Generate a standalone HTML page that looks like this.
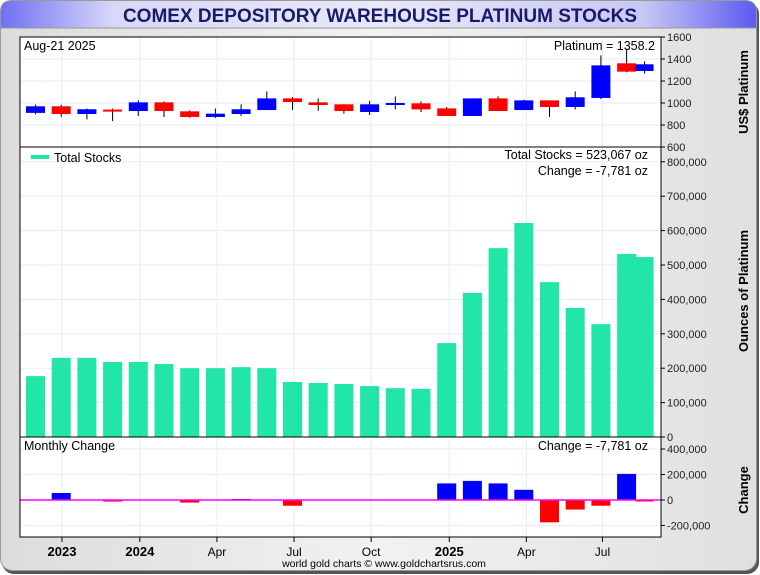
<!DOCTYPE html>
<html><head><meta charset="utf-8"><style>
body{margin:0;width:760px;height:575px;overflow:hidden;background:#fff;font-family:"Liberation Sans",sans-serif}
svg{display:block}
</style></head><body>
<svg id="chart" width="760" height="575" xmlns="http://www.w3.org/2000/svg">
<defs>
<linearGradient id="hdr" x1="0" x2="1" y1="0" y2="0">
<stop offset="0" stop-color="#6f6ff5"/><stop offset="0.15" stop-color="#d8d8f8"/><stop offset="0.5" stop-color="#e8e8fa"/><stop offset="0.85" stop-color="#c8c8f6"/><stop offset="1" stop-color="#5a5af0"/></linearGradient>
<linearGradient id="bg" x1="0" x2="1" y1="0" y2="0"><stop offset="0" stop-color="#dcdcdc"/><stop offset="0.5" stop-color="#f2f2f2"/><stop offset="1" stop-color="#e0e0e0"/></linearGradient>
</defs>
<rect x="2" y="2" width="757" height="572" rx="12" fill="#555"/>
<rect x="0.5" y="0.5" width="756" height="570" rx="12" fill="url(#bg)" stroke="#999"/>
<path d="M0.5,28 V12 Q0.5,0.5 12,0.5 H745 Q756.5,0.5 756.5,12 V28 Z" fill="url(#hdr)" stroke="#999"/>
<text x="380" y="22" text-anchor="middle" font-size="19" font-weight="bold" fill="#1a1a6a">COMEX DEPOSITORY WAREHOUSE PLATINUM STOCKS</text>
<rect x="20" y="37" width="641" height="500" fill="#fff" stroke="#000"/>
<g id="grid"></g>
<g id="marks"></g>
<g id="axes"></g>
<line x1="20" y1="147" x2="661" y2="147" stroke="#000"/>
<line x1="20" y1="437" x2="661" y2="437" stroke="#000"/>
<rect x="20" y="37" width="641" height="500" fill="none" stroke="#000"/>
<text x="24" y="50" font-size="12.5">Aug-21  2025</text>
<text x="655" y="50" text-anchor="end" font-size="12.5">Platinum = 1358.2</text>
<rect x="31" y="155" width="18" height="4" fill="#22e5a8"/>
<text x="54" y="162" font-size="12.5">Total Stocks</text>
<text x="648" y="159" text-anchor="end" font-size="12.5">Total Stocks = 523,067 oz</text>
<text x="648" y="175" text-anchor="end" font-size="12.5">Change = -7,781 oz</text>
<text x="24" y="450" font-size="12.5">Monthly Change</text>
<text x="648" y="450" text-anchor="end" font-size="12.5">Change = -7,781 oz</text>
<text transform="translate(748,92) rotate(-90)" text-anchor="middle" font-size="13" font-weight="bold">US$ Platinum</text>
<text transform="translate(748,291) rotate(-90)" text-anchor="middle" font-size="13" font-weight="bold">Ounces of Platinum</text>
<text transform="translate(748,490) rotate(-90)" text-anchor="middle" font-size="13" font-weight="bold">Change</text>
<text x="384" y="567" text-anchor="middle" font-size="10.5">world gold charts © www.goldchartsrus.com</text>
</svg>
<script>
const monthPos=[0,1,2,3,4,5,6,7,8,9,10,11,12,13,14,15,16,17,18,19,20,21,22,23,23.7];
const opens=[910,970,900,940,927,1006,924,873,900,936,1042,1006,988,918,982,997,951,882,1042,936,1024,964,1046,1361,1291];
const closes=[970,900,943,927,1006,927,873,903,943,1042,1009,982,927,988,1000,942,882,1042,927,1024,964,1052,1342,1285,1352];
const highs=[985,985,950,950,1025,1015,933,950,988,1106,1055,1042,988,1021,1060,1015,964,1042,1060,1030,1024,1106,1433,1494,1379];
const lows=[897,875,850,836,882,873,867,864,882,936,936,930,903,891,942,918,882,882,927,936,873,942,1036,1279,1267];
const totalStocks=[177,230,230,218,218,212,200,200,203,200,160,157,154,148,142,140,273,419,549,622,450,375,328,532,523];
const changes=[0,55,0,-12,0,0,-20,0,8,0,-45,0,0,0,0,0,130,150,130,80,-175,-75,-45,205,-8];
const priceTicks=[600,800,1000,1200,1400,1600];
const stockTicks=[0,100,200,300,400,500,600,700,800];
const changeTicks=[-200,0,200,400];
const xTickPos=[1.03,4.06,7.06,10.06,13.06,16.1,19.1,22.06];
const xTickLabels=["2023","2024","Apr","Jul","Oct","2025","Apr","Jul"];
const xTickBold=[true,true,false,false,false,true,false,false];

const X=m=>35.5+25.7*m;
const YP=v=>37+(1600-v)*0.11;
const YS=v=>437-v*0.344;
const YC=v=>500-v*0.1275;
const NS="http://www.w3.org/2000/svg";
function mk(parent,tag,attrs){const e=document.createElementNS(NS,tag);for(const k in attrs)e.setAttribute(k,attrs[k]);document.getElementById(parent).appendChild(e);return e;}
const GC="#e3eef8";
xTickPos.forEach((p,i)=>{
  const g=mk('grid','line',{x1:X(p),x2:X(p),y1:37,y2:537,stroke:GC});
  
  
  const t=mk('axes','line',{x1:X(p),x2:X(p),y1:537,y2:542,stroke:'#000'});
  
  
  const l=mk('axes','text',{x:X(p),y:556,'text-anchor':'middle','font-size':xTickBold[i]?13:12,'font-weight':xTickBold[i]?'bold':'normal'});
  l.textContent=xTickLabels[i];
  
  
});
function yAxis(ticks,Y,fmt,color){
  ticks.forEach(v=>{
    const g=mk('grid','line',{x1:20,x2:661,y1:Y(v),y2:Y(v),stroke:GC});
    
    
    const t=mk('axes','line',{x1:661,x2:665,y1:Y(v),y2:Y(v),stroke:'#000'});
    
    
    const l=mk('axes','text',{x:667,y:Y(v)+4,'font-size':11,fill:color||'#222'});
    l.textContent=fmt(v);
    
    
  });
}
yAxis(priceTicks,YP,v=>String(v));
yAxis(stockTicks,YS,v=>v===0?'0':(v*1000).toLocaleString('en-US'));
yAxis(changeTicks,YC,v=>v===0?'0':(v*1000).toLocaleString('en-US'),null);
monthPos.forEach((m,i)=>{
  const w=i===monthPos.length-1?18:19;
  const cx=X(m);
  const up=closes[i]>=opens[i];
  const wick=mk('marks','line',{x1:cx,x2:cx,y1:YP(highs[i]),y2:YP(lows[i]),stroke:'#000'});
  
  
  const top=YP(Math.max(opens[i],closes[i])),bot=YP(Math.min(opens[i],closes[i]));
  const b=mk('marks','rect',{x:cx-w/2,y:top,width:w,height:Math.max(2,bot-top),fill:up?'#0000ff':'#ff0000'});
  
  
  const s=mk('marks','rect',{x:cx-w/2,y:YS(totalStocks[i]),width:w,height:437-YS(totalStocks[i]),fill:'#22e5a8'});
  
  
  const c=changes[i];
  if(c!==0){
    const cb=mk('marks','rect',{x:cx-w/2,y:Math.min(YC(c),YC(0)),width:w,height:Math.max(1.5,Math.abs(YC(c)-YC(0))),fill:c>0?'#0000ff':'#ff0000'});
    
    
  }
});
const z=mk('marks','line',{x1:20,x2:661,y1:YC(0),y2:YC(0),stroke:'#ff00ff','stroke-width':1.5});


</script>
</body></html>
